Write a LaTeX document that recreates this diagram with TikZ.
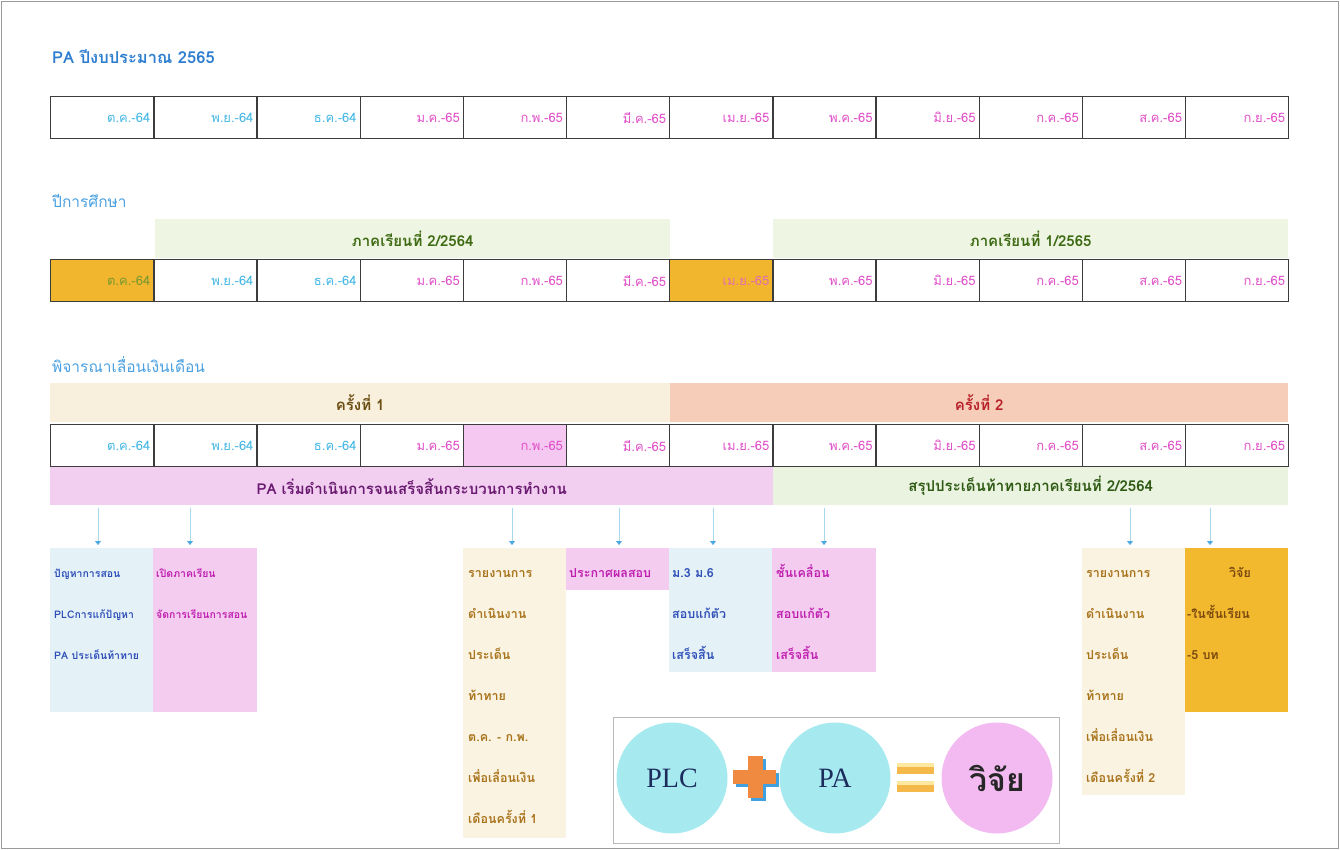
\documentclass[tikz,border=0pt]{standalone}
\usepackage{fontspec}
\setmainfont{Loma}[Script=Thai]
\newfontfamily\lat{Liberation Serif}
\usetikzlibrary{arrows.meta}

\definecolor{frame}{HTML}{9A9A9A}
\definecolor{cellline}{HTML}{3C3C3C}
\definecolor{sky}{HTML}{45B8E6}
\definecolor{mag}{HTML}{E050C8}
\definecolor{gold}{HTML}{F2B52E}
\definecolor{olivetxt}{HTML}{7A9A30}
\definecolor{rosetxt}{HTML}{E070B0}
\definecolor{pinkcell}{HTML}{F4C8F0}
\definecolor{semgreen}{HTML}{EEF5E2}
\definecolor{semtxt}{HTML}{3D6A12}
\definecolor{roundone}{HTML}{F8F0DC}
\definecolor{roundonetxt}{HTML}{6B4C12}
\definecolor{roundtwo}{HTML}{F6CDB8}
\definecolor{roundtwotxt}{HTML}{B8202A}
\definecolor{paband}{HTML}{F2CFF0}
\definecolor{patxt}{HTML}{6A1A70}
\definecolor{sumband}{HTML}{EAF3E0}
\definecolor{sumtxt}{HTML}{2F5A14}
\definecolor{arrline}{HTML}{A8D8F0}
\definecolor{arrtip}{HTML}{50A8E0}
\definecolor{lbluebox}{HTML}{E4F2F8}
\definecolor{bluetxt}{HTML}{3050B8}
\definecolor{pinkbox}{HTML}{F4CCF0}
\definecolor{magtxt}{HTML}{C020B0}
\definecolor{beigebox}{HTML}{FBF3E2}
\definecolor{browntxt}{HTML}{A8741C}
\definecolor{goldbox}{HTML}{F3B92E}
\definecolor{goldtxt}{HTML}{7A4A10}
\definecolor{titleblue}{HTML}{2F7FD0}
\definecolor{secblue}{HTML}{4AA0E0}
\definecolor{circcyan}{HTML}{A6EAF0}
\definecolor{circpink}{HTML}{F2BAF0}
\definecolor{plctxt}{HTML}{1C2C5C}
\definecolor{plusorange}{HTML}{F08A40}
\definecolor{plusblue}{HTML}{40A0E0}
\definecolor{eqfill}{HTML}{F5B84A}
\definecolor{eqlight}{HTML}{FDE8A0}

\def\months{ต.ค.-64,พ.ย.-64,ธ.ค.-64,ม.ค.-65,ก.พ.-65,มี.ค.-65,เม.ย.-65,พ.ค.-65,มิ.ย.-65,ก.ค.-65,ส.ค.-65,ก.ย.-65}

% one text line per row of a tall box, 41pt apart
\newcommand\boxlines[5]{%
  \foreach \t [count=\k] in {#5} {%
    \node[anchor=base west, inner sep=0pt, text=#3, font=#4] (#1-\k) at (#2, {577+41*(\k-1)}) {\t};
  }%
}
\newcommand\boxfont{\bfseries\fontsize{12.5}{14}\selectfont}
\newcommand\smallboxfont{\bfseries\fontsize{10.5}{12}\selectfont}

\begin{document}
\begin{tikzpicture}[x=1pt, y=-1pt,
  cell/.style={draw=cellline, line width=1.4pt, minimum width=103.17pt, minimum height=42pt,
               anchor=north west, inner sep=0pt, text width=96pt, align=right,
               font=\fontsize{13}{15}\selectfont},
  band/.style={anchor=north west, inner sep=0pt, minimum height=39pt,
               font=\bfseries\fontsize{15}{17}\selectfont},
  box/.style={anchor=north west, inner sep=0pt, minimum width=103.17pt},
  seclabel/.style={anchor=west, inner sep=0pt, text=secblue, font=\fontsize{15.5}{17}\selectfont},
  arr/.style={draw=arrline, line width=0.8pt, shorten <=3pt,
              -{Triangle[width=6pt,length=4pt,color=arrtip,fill=arrtip]}},
  circ/.style={circle, minimum size=111pt, inner sep=0pt}
]
\useasboundingbox (0,0) rectangle (1340,850);
\draw[frame, line width=1pt] (1.5,1.5) rectangle (1338.5,848.5);

% ---- fiscal year ----
\node[anchor=west, inner sep=0pt, text=titleblue, font=\bfseries\fontsize{16.5}{18}\selectfont]
  (title) at (52,57) {PA ปีงบประมาณ 2565};
\foreach \m [count=\i] in \months {
  \ifnum\i<4 \def\tc{sky}\else\def\tc{mag}\fi
  \node[cell, text=\tc] (a\i) at ({50+(\i-1)*103.17},96) {\m};
}

% ---- academic year ----
\node[seclabel] (acad) at (52,201) {ปีการศึกษา};
\node[band, fill=semgreen, text=semtxt, minimum width=515pt] (semA) at (155,219) {ภาคเรียนที่ 2/2564};
\node[band, fill=semgreen, text=semtxt, minimum width=515pt] (semB) at (773,219) {ภาคเรียนที่ 1/2565};
\foreach \m [count=\i] in \months {
  \ifnum\i<4 \def\tc{sky}\else\def\tc{mag}\fi
  \def\fc{white}
  \ifnum\i=1 \def\fc{gold}\def\tc{olivetxt}\fi
  \ifnum\i=7 \def\fc{gold}\def\tc{rosetxt}\fi
  \node[cell, fill=\fc, text=\tc] (b\i) at ({50+(\i-1)*103.17},259) {\m};
}

% ---- salary review ----
\node[seclabel] (salary) at (52,365) {พิจารณาเลื่อนเงินเดือน};
\node[band, fill=roundone, text=roundonetxt, minimum width=620pt] (rnd1) at (50,383) {ครั้งที่ 1};
\node[band, fill=roundtwo, text=roundtwotxt, minimum width=618pt] (rnd2) at (670,383) {ครั้งที่ 2};
\foreach \m [count=\i] in \months {
  \ifnum\i<4 \def\tc{sky}\else\def\tc{mag}\fi
  \def\fc{white}
  \ifnum\i=5 \def\fc{pinkcell}\fi
  \node[cell, fill=\fc, text=\tc] (c\i) at ({50+(\i-1)*103.17},424) {\m};
}
\node[band, fill=paband, text=patxt, minimum width=723pt, minimum height=38pt] (pa) at (50,467)
  {PA เริ่มดำเนินการจนเสร็จสิ้นกระบวนการทำงาน};
\node[band, fill=sumband, text=sumtxt, minimum width=515pt, minimum height=38pt] (sum) at (773,467)
  {สรุปประเด็นท้าทายภาคเรียนที่ 2/2564};

% ---- activity boxes ----
\node[box, fill=lbluebox, minimum height=164pt] (k1) at (50,548) {};
\node[box, fill=pinkbox,  minimum height=164pt] (k2) at (153.17,548) {};
\node[box, fill=beigebox, minimum height=290pt] (k3) at (462.68,548) {};
\node[box, fill=pinkbox,  minimum height=42pt]  (k4) at (565.85,548) {};
\node[box, fill=lbluebox, minimum height=124pt] (k5) at (669,548) {};
\node[box, fill=pinkbox,  minimum height=124pt] (k6) at (772.2,548) {};
\node[box, fill=beigebox, minimum height=247pt] (k7) at (1081.7,548) {};
\node[box, fill=goldbox,  minimum height=164pt] (k8) at (1184.8,548) {};

\boxlines{t1}{54}{bluetxt}{\smallboxfont}{ปัญหาการสอน,PLCการแก้ปัญหา,PA ประเด็นท้าทาย}
\boxlines{t2}{156}{magtxt}{\smallboxfont}{เปิดภาคเรียน,จัดการเรียนการสอน}
\boxlines{t3}{468}{browntxt}{\boxfont}{รายงานการ,ดำเนินงาน,ประเด็น,ท้าทาย,ต.ค. - ก.พ.,เพื่อเลื่อนเงิน,เดือนครั้งที่ 1}
\boxlines{t4}{569}{magtxt}{\boxfont}{ประกาศผลสอบ}
\boxlines{t5}{672}{bluetxt}{\boxfont}{ม.3 ม.6,สอบแก้ตัว,เสร็จสิ้น}
\boxlines{t6}{776}{magtxt}{\boxfont}{ชั้นเคลื่อน,สอบแก้ตัว,เสร็จสิ้น}
\boxlines{t7}{1086}{browntxt}{\boxfont}{รายงานการ,ดำเนินงาน,ประเด็น,ท้าทาย,เพื่อเลื่อนเงิน,เดือนครั้งที่ 2}
\node[anchor=base, inner sep=0pt, text=goldtxt, font=\boxfont] (t8-1) at (1240,577) {วิจัย};
\node[anchor=base west, inner sep=0pt, text=goldtxt, font=\boxfont] (t8-2) at (1187,618) {-ในชั้นเรียน};
\node[anchor=base west, inner sep=0pt, text=goldtxt, font=\boxfont] (t8-3) at (1187,659) {-5 บท};

% ---- arrows from the bands to the boxes ----
\coordinate (e1) at (98,545);
\coordinate (e2) at (190,545);
\coordinate (e3) at (512,545);
\coordinate (e4) at (619,545);
\coordinate (e5) at (713,545);
\coordinate (e6) at (824,545);
\coordinate (e7) at (1130,545);
\coordinate (e8) at (1210,545);
\foreach \e in {e1,e2,e3,e4,e5,e6} \draw[arr] (pa.south -| \e) -- (\e);
\foreach \e in {e7,e8} \draw[arr] (sum.south -| \e) -- (\e);

% ---- PLC + PA = research ----
\node[draw=frame!70, line width=0.8pt, anchor=north west, minimum width=446pt, minimum height=126pt, inner sep=0pt]
  (eqbox) at (613,717) {};
\node[circ, fill=circcyan, text=plctxt, font=\lat\fontsize{28}{30}\selectfont] (plc) at (672,778) {PLC};
\node[circ, fill=circcyan, text=plctxt, font=\lat\fontsize{28}{30}\selectfont] (pacirc) at (835,778) {PA};
\node[circ, fill=circpink, text=black!85, font=\bfseries\fontsize{32}{34}\selectfont] (res) at (997,778) {วิจัย};
% plus sign with a blue shadow
\fill[plusblue] (736,773) rectangle (779,787);
\fill[plusblue] (751,759) rectangle (766,801);
\fill[plusorange] (733,770) rectangle (776,784);
\fill[plusorange] (748,756) rectangle (763,798);
% equals sign
\foreach \yy in {763,781} {
  \fill[eqfill] (897,\yy) rectangle (934,{\yy+11});
  \fill[eqlight] (897,\yy) rectangle (934,{\yy+4});
}
\end{tikzpicture}
\end{document}
